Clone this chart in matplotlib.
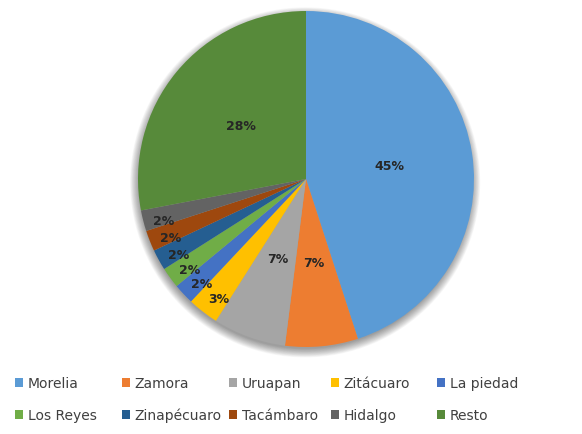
import matplotlib.pyplot as plt
import numpy as np
from matplotlib.patches import Circle

cities = ["Morelia", "Zamora", "Uruapan", "Zitácuaro", "La piedad",
          "Los Reyes", "Zinapécuaro", "Tacámbaro", "Hidalgo", "Resto"]
shares = [45, 7, 7, 3, 2, 2, 2, 2, 2, 28]
colors = ["#5B9BD5", "#ED7D31", "#A5A5A5", "#FFC000", "#4472C4",
          "#70AD47", "#255E91", "#9E480E", "#636363", "#578A3A"]

fig = plt.figure(figsize=(5.82, 4.35), dpi=100)
ax = fig.add_axes([138 / 582, 87 / 435, 336 / 582, 336 / 435])

# soft drop shadow
for i in range(14):
    ax.add_patch(Circle((-0.005, -0.02), 0.99 + 0.004 * i, color="black",
                        alpha=0.03, lw=0, zorder=0, clip_on=False))

wedges, _, autotexts = ax.pie(
    shares, colors=colors, startangle=90, counterclock=False,
    autopct="%d%%", pctdistance=0.5, radius=1.0,
    wedgeprops=dict(linewidth=0),
    textprops=dict(fontsize=9, fontweight="bold", color="#262626"),
)
for w, t, s in zip(wedges, autotexts, shares):
    w.set_zorder(2)
    t.set_zorder(3)
    if s <= 3:
        # small slices: label pushed out toward the rim
        ang = np.deg2rad((w.theta1 + w.theta2) / 2 + 1.8)
        r = 0.88
        t.set_position((r * np.cos(ang), r * np.sin(ang)))

ax.set_xlim(-1, 1)
ax.set_ylim(-1, 1)
ax.set_aspect("equal")
ax.axis("off")

# legend laid out Excel-style on a fixed grid (pixels)
col_x = [15, 122, 229, 331, 437]
row_y = [384, 416]
for k, (w, name) in enumerate(zip(wedges, cities)):
    r, c = divmod(k, 5)
    leg = fig.legend([w], [name], loc="center left",
                     bbox_to_anchor=(col_x[c] / 582, 1 - row_y[r] / 435),
                     frameon=False, fontsize=10, handlelength=0.6,
                     handleheight=0.6, handletextpad=0.3,
                     borderpad=0, borderaxespad=0)
    leg.get_texts()[0].set_color("#404040")

fig.savefig("out.png", dpi=100)
